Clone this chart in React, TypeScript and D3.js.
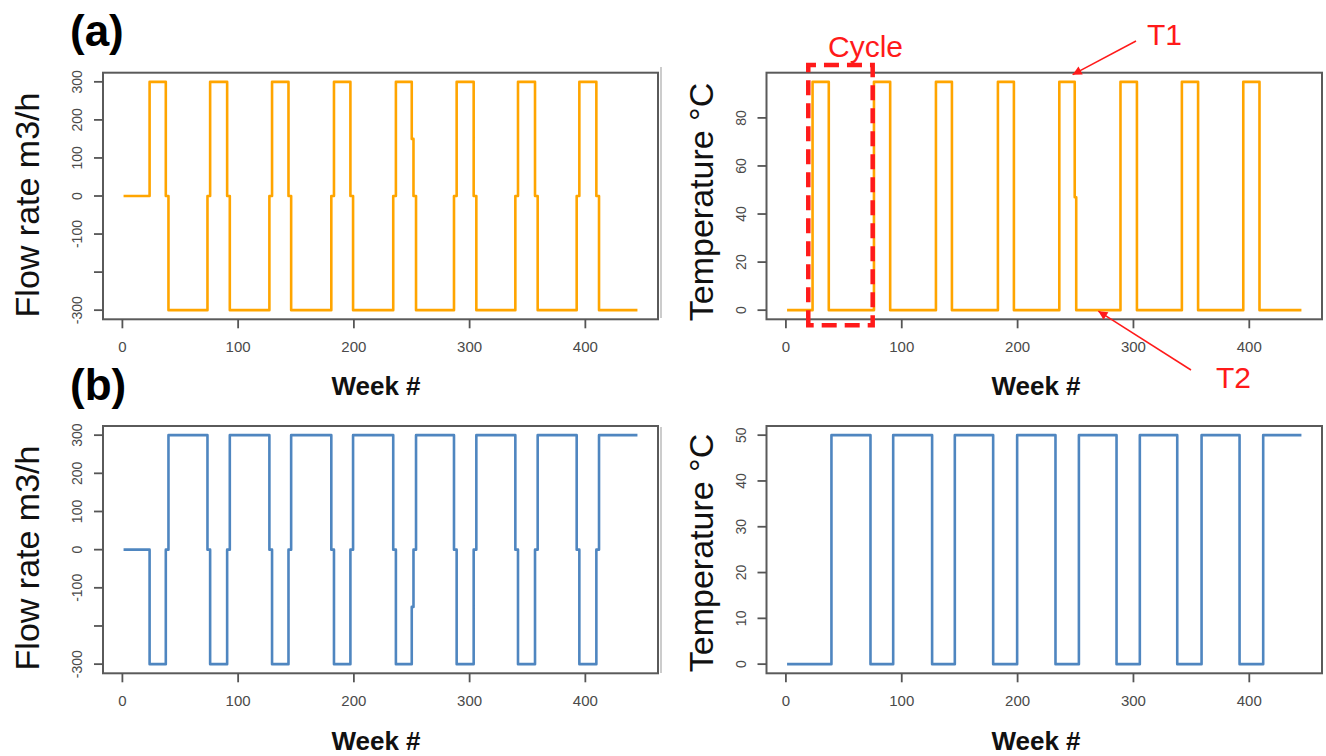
import React, { useRef, useEffect } from 'react';
import * as d3 from 'd3';

// weeks where the flow switches level (step after), shared by both flow panels
const flowWeeks = [1, 23.5, 37.5, 39.8, 73.5, 75.8, 90.5, 92.8, 127, 129.3, 143.5, 145.8,
  180.5, 182.8, 197, 199.3, 234, 236.3, 250, 251.5, 253.7, 286.5, 288.8, 303.5, 305.8,
  339.5, 341.8, 356.5, 358.8, 392.5, 394.8, 409.5, 411.8, 445];
const flowAValues = [0, 300, 0, -300, 0, 300, 0, -300, 0, 300, 0, -300,
  0, 300, 0, -300, 0, 300, 150, 0, -300, 0, 300, 0, -300,
  0, 300, 0, -300, 0, 300, 0, -300, -300];
const flowBValues = [0, -300, 0, 300, 0, -300, 0, 300, 0, -300, 0, 300,
  0, -300, 0, 300, 0, -300, -150, 0, 300, 0, -300, 0, 300,
  0, -300, 0, 300, 0, -300, 0, 300, 300];

const tempAWeeks = [1, 23, 37, 76, 90, 129.5, 143.3, 183, 196.8, 236, 249.3, 250.6,
  288.8, 303, 341.8, 355.8, 394.8, 408.8, 445];
const tempAValues = [0, 95, 0, 95, 0, 95, 0, 95, 0, 95, 47, 0, 95, 0, 95, 0, 95, 0, 0];

const tempBWeeks = [1, 39.3, 73, 92.6, 126.2, 145.8, 178.9, 199.6, 232.7, 252.9,
  285.4, 305.5, 337.8, 358.8, 391.6, 412, 445];
const tempBValues = [0, 50, 0, 50, 0, 50, 0, 50, 0, 50, 0, 50, 0, 50, 0, 50, 50];

const weekTicks = [0, 100, 200, 300, 400];
const flowTicks = [-300, -200, -100, 0, 100, 200, 300];
const flowTickLabels = ['-300', '', '-100', '0', '100', '200', '300'];
const tempATicks = [0, 20, 40, 60, 80];
const tempBTicks = [0, 10, 20, 30, 40, 50];

const ORANGE = '#FFA500';
const BLUE = '#4f86c0';
const RED = '#ff1a1a';
const FONT = '"Liberation Sans", Arial, sans-serif';

function App() {
  const ref = useRef(null);

  useEffect(() => {
    const svg = d3.select(ref.current);
    svg.selectAll('*').remove();

    const colX = [[103, 658], [766.5, 1322]];
    const rowY = [[319.3, 72.7], [673.3, 426]];

    const panels = [
      { weeks: flowWeeks, values: flowAValues, color: ORANGE, col: 0, row: 0,
        ticks: flowTicks, labels: flowTickLabels, title: 'Flow rate m3/h', titleY: 205 },
      { weeks: tempAWeeks, values: tempAValues, color: ORANGE, col: 1, row: 0,
        ticks: tempATicks, labels: tempATicks.map(String), title: 'Temperature °C', titleY: 202 },
      { weeks: flowWeeks, values: flowBValues, color: BLUE, col: 0, row: 1,
        ticks: flowTicks, labels: flowTickLabels, title: 'Flow rate m3/h', titleY: 558 },
      { weeks: tempBWeeks, values: tempBValues, color: BLUE, col: 1, row: 1,
        ticks: tempBTicks, labels: tempBTicks.map(String), title: 'Temperature °C', titleY: 553 },
    ];

    const scales = [];

    panels.forEach(p => {
      const [w0, w1] = d3.extent(p.weeks);
      const pw = 0.04 * (w1 - w0);
      const x = d3.scaleLinear().domain([w0 - pw, w1 + pw]).range(colX[p.col]);
      const [v0, v1] = d3.extent(p.values);
      const pv = 0.04 * (v1 - v0);
      const y = d3.scaleLinear().domain([v0 - pv, v1 + pv]).range(rowY[p.row]);
      scales.push({ x, y });

      const g = svg.append('g');
      const [left, right] = colX[p.col];
      const [bottom, top] = rowY[p.row];

      // box
      g.append('rect')
        .attr('x', left).attr('y', top)
        .attr('width', right - left).attr('height', bottom - top)
        .attr('fill', 'none').attr('stroke', '#5a5a5a').attr('stroke-width', 2);

      // x ticks
      g.selectAll('.xt').data(weekTicks).enter().append('line')
        .attr('x1', d => x(d)).attr('x2', d => x(d))
        .attr('y1', bottom).attr('y2', bottom + 9)
        .attr('stroke', '#555').attr('stroke-width', 1.8);
      g.selectAll('.xl').data(weekTicks).enter().append('text')
        .attr('x', d => x(d)).attr('y', bottom + 33)
        .attr('text-anchor', 'middle')
        .style('font-family', FONT).style('font-size', '15px').attr('fill', '#4a4a4a')
        .text(d => d);

      // y ticks, labels parallel to the axis
      g.selectAll('.yt').data(p.ticks).enter().append('line')
        .attr('x1', left - 9).attr('x2', left)
        .attr('y1', d => y(d)).attr('y2', d => y(d))
        .attr('stroke', '#555').attr('stroke-width', 1.8);
      g.selectAll('.yl').data(p.ticks).enter().append('text')
        .attr('transform', d => `translate(${left - 26},${y(d)}) rotate(-90)`)
        .attr('text-anchor', 'middle').attr('dy', '0.36em')
        .style('font-family', FONT).style('font-size', '14px').attr('fill', '#4a4a4a')
        .text((d, i) => p.labels[i]);

      // the series
      const line = d3.line()
        .x((d, i) => x(p.weeks[i]))
        .y(d => y(d))
        .curve(d3.curveStepAfter);
      g.append('path')
        .datum(p.values)
        .attr('d', line)
        .attr('fill', 'none')
        .attr('stroke', p.color)
        .attr('stroke-width', 2.6)
        .attr('stroke-linejoin', 'round');

      // axis titles
      g.append('text')
        .attr('x', p.col === 0 ? 376 : 1036)
        .attr('y', p.row === 0 ? 395 : 750)
        .attr('text-anchor', 'middle')
        .style('font-family', FONT).style('font-size', '26px').style('font-weight', 'bold')
        .attr('fill', '#111')
        .text('Week #');
      g.append('text')
        .attr('transform', `translate(${p.col === 0 ? 39 : 713},${p.titleY}) rotate(-90)`)
        .attr('text-anchor', 'middle')
        .style('font-family', FONT).style('font-size', '34px')
        .attr('fill', '#111')
        .text(p.title);
    });

    // faint edge between the pasted plots
    [[67, 318], [427, 673]].forEach(([a, b]) => {
      svg.append('line').attr('x1', 661).attr('x2', 661).attr('y1', a).attr('y2', b)
        .attr('stroke', '#aaa').attr('stroke-width', 1.2);
    });

    // panel letters
    svg.append('text').attr('x', 70).attr('y', 46)
      .style('font-family', FONT).style('font-size', '44px').style('font-weight', 'bold')
      .text('(a)');
    svg.append('text').attr('x', 70).attr('y', 400)
      .style('font-family', FONT).style('font-size', '44px').style('font-weight', 'bold')
      .text('(b)');

    // annotations on the top temperature panel
    const { x: tx, y: ty } = scales[1];
    const defs = svg.append('defs');
    defs.append('marker')
      .attr('id', 'arrow')
      .attr('viewBox', '0 0 10 10')
      .attr('refX', 10).attr('refY', 5)
      .attr('markerWidth', 12).attr('markerHeight', 9)
      .attr('markerUnits', 'userSpaceOnUse')
      .attr('orient', 'auto')
      .append('path').attr('d', 'M0,0 L10,5 L0,10 Z').attr('fill', RED);

    const cx0 = tx(19.3), cx1 = tx(74.9), cy0 = ty(102), cy1 = ty(-6.3);
    svg.append('path')
      .attr('d', `M${cx0},${cy1} L${cx0},${cy0} L${cx1},${cy0} L${cx1},${cy1} Z`)
      .attr('fill', 'none').attr('stroke', RED).attr('stroke-width', 4.5)
      .attr('stroke-dasharray', '15,8');
    svg.append('text').attr('x', 828).attr('y', 57)
      .style('font-family', FONT).style('font-size', '30px').attr('fill', RED)
      .text('Cycle');

    svg.append('text').attr('x', 1147).attr('y', 45)
      .style('font-family', FONT).style('font-size', '30px').attr('fill', RED)
      .text('T1');
    svg.append('line')
      .attr('x1', 1136).attr('y1', 41)
      .attr('x2', tx(247.5)).attr('y2', ty(98.8) + 2)
      .attr('stroke', RED).attr('stroke-width', 1.5)
      .attr('marker-end', 'url(#arrow)');

    svg.append('text').attr('x', 1216).attr('y', 388)
      .style('font-family', FONT).style('font-size', '30px').attr('fill', RED)
      .text('T2');
    svg.append('line')
      .attr('x1', 1191).attr('y1', 370)
      .attr('x2', tx(269.7)).attr('y2', ty(0) + 1)
      .attr('stroke', RED).attr('stroke-width', 1.5)
      .attr('marker-end', 'url(#arrow)');
  }, []);

  return (
    <svg ref={ref} width={1326} height={756}
      style={{ position: 'absolute', left: 0, top: 0, background: '#fff' }} />
  );
}

export default App;
